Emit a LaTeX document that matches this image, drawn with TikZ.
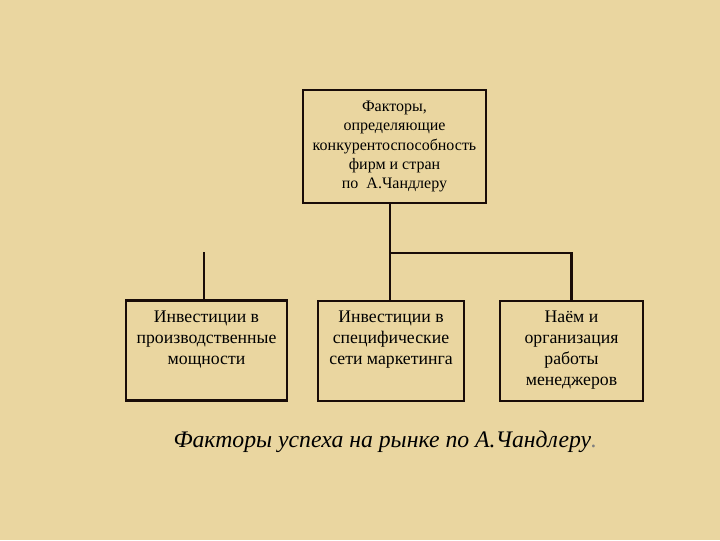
\documentclass[tikz,border=0pt]{standalone}
\usepackage{fontspec}
\setmainfont{Liberation Serif}
\usetikzlibrary{positioning}

\definecolor{parchment}{RGB}{234,214,160}
\definecolor{inkline}{RGB}{25,12,8}

\tikzset{every picture/.style={line width=0.75pt}}
\tikzset{
  factorbox/.style={draw=inkline, line width=1.6pt, inner sep=0pt},
  headtext/.style={align=center, font=\fontsize{12}{14.6}\selectfont},
  boxtext/.style={align=center, inner sep=0pt, font=\fontsize{13.3}{15.8}\selectfont},
  link/.style={draw=inkline, line width=1.6pt}
}

\begin{document}
\begin{tikzpicture}[x=0.75pt,y=0.75pt,yscale=-1,xscale=1]
	%background
	\fill [parchment] (0,0) rectangle (720,540);
	\useasboundingbox (0,0) rectangle (720,540);
	
	%Head box
	\node [factorbox, headtext, minimum width=137pt, minimum height=85pt] (head) at (394.5,146.5) {Факторы,\\определяющие\\конкурентоспособность\\фирм и стран\\по~ А.Чандлеру};
	
	%Factor boxes
	\node [factorbox, minimum width=121pt, minimum height=75pt] (invest) at (206.5,350.5) {};
	\node [factorbox, minimum width=109.5pt, minimum height=75pt] (market) at (391,351) {};
	\node [factorbox, minimum width=107pt, minimum height=75pt] (hire) at (571.5,351) {};
	
	\node [boxtext, below=8pt of invest.north] (investtext) {Инвестиции в\\производственные\\мощности};
	\node [boxtext, below=8pt of market.north] (markettext) {Инвестиции в\\специфические\\сети маркетинга};
	\node [boxtext, below=8pt of hire.north] (hiretext) {Наём и\\организация\\работы\\менеджеров};
	
	%Connectors
	\coordinate (fork) at (390,253);
	\coordinate (loose) at (204,252);
	\draw [link] (fork |- head.south) -- (fork |- market.north);
	\draw [link] (fork) -| (hire.north);
	\draw [link] (loose) -- (loose |- invest.north);
	
	%Caption
	\node [anchor=base west, inner sep=0pt, font=\fontsize{17.8}{22}\itshape] (caption) at (173,447) {Факторы успеха на рынке по А.Чандлеру\textcolor{gray}{.}};
	
\end{tikzpicture}
\end{document}
